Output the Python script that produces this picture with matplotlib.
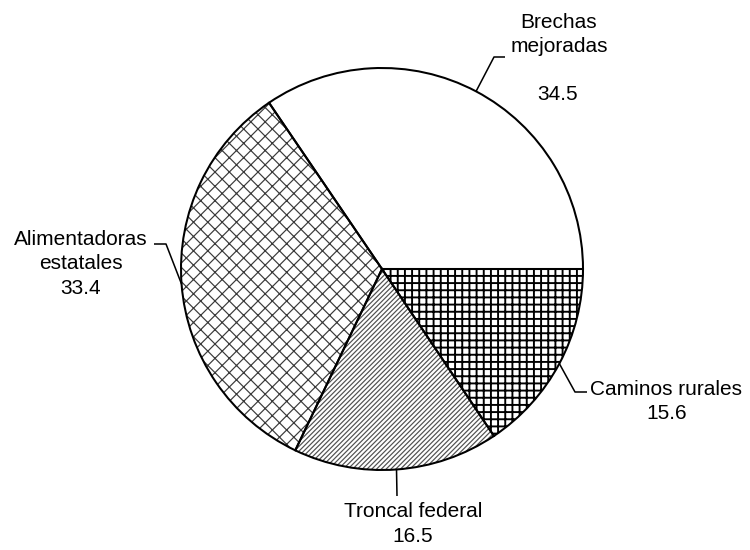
import matplotlib
matplotlib.use("Agg")
import matplotlib.pyplot as plt
import numpy as np

plt.rcParams['font.family'] = ['Liberation Sans', 'DejaVu Sans']

names = [["Brechas", "mejoradas"], ["Alimentadoras", "estatales"], ["Troncal federal"], ["Caminos rurales"]]
values = [34.5, 33.4, 16.5, 15.6]
hatches = ["", "xx", "//////", "++"]
hatch_cols = ["black", "#3a3a3a", "#505050", "black"]
hatch_lws = [1.0, 1.0, 1.0, 1.6]

W, H, DPI = 750, 550, 86
CX, CY, R = 382, 269, 201

fig = plt.figure(figsize=(W / DPI, H / DPI), dpi=DPI)
ax = fig.add_axes([0, 0, 1, 1])

def py(y):  # pixel-from-top -> data y
    return H - y

# hatch layer
wedges, _ = ax.pie(values, startangle=0, counterclock=True, center=(CX, py(CY)),
                   radius=R, frame=True)
for w, h, c, hl in zip(wedges, hatches, hatch_cols, hatch_lws):
    w.set_facecolor("white"); w.set_hatch(h); w.set_edgecolor(c); w.set_linewidth(0)
    if hasattr(w, "set_hatch_linewidth"):
        w.set_hatch_linewidth(hl)
    else:
        w._hatch_linewidth = hl
# outline layer
ax.pie(values, startangle=0, counterclock=True, center=(CX, py(CY)), radius=R,
       frame=True, wedgeprops=dict(fill=False, edgecolor="black", linewidth=1.7))
ax.set_xlim(0, W); ax.set_ylim(0, H); ax.axis("off"); ax.set_aspect("auto")

# leaders: start at wedge mid-angle on the rim, then elbow + end (pixel positions)
leaders = [[(494, 57), (505, 57)],
           [(166, 244), (154, 244)],
           [(397, 496)],
           [(575, 392), (587, 392)]]
for w, pts in zip(wedges, leaders):
    a = np.deg2rad((w.theta1 + w.theta2) / 2)
    xs = [CX + R * np.cos(a)] + [p[0] for p in pts]
    ys = [py(CY) + R * np.sin(a)] + [py(p[1]) for p in pts]
    ax.plot(xs, ys, color="black", lw=1.3, solid_capstyle="butt")

# label lines: (x centre, baseline) in pixels from top-left
label_pos = [[(559, 28), (559, 52), (558, 100)],
             [(81, 245), (81, 269), (81, 294)],
             [(413, 517), (413, 542)],
             [(666, 395), (667, 419)]]
fs = 17.5
for nm, v, pos in zip(names, values, label_pos):
    for txt, (x, y) in zip(nm + [f"{v}"], pos):
        ax.text(x, py(y), txt, ha="center", va="baseline", fontsize=fs)

fig.savefig("out.png", dpi=DPI)
